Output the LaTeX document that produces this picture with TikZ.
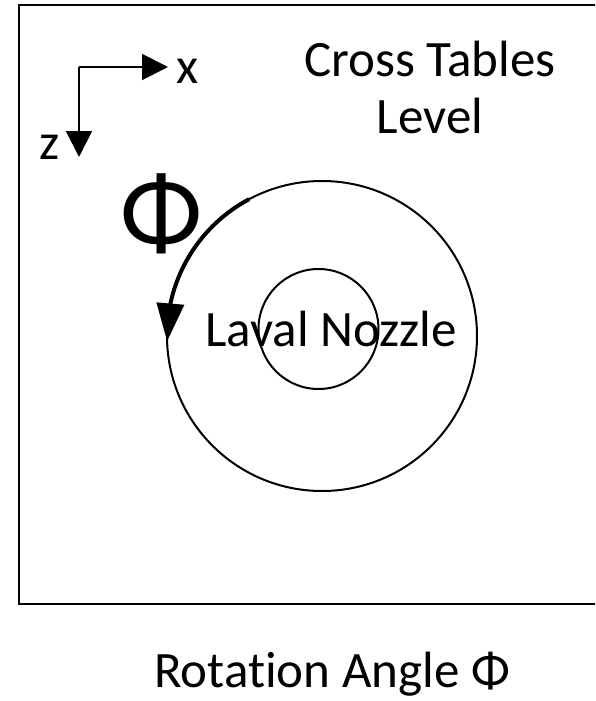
\documentclass[tikz,border=0pt]{standalone}
\usepackage{fontspec}
\setmainfont{Carlito}[Ligatures=NoCommon]
\usetikzlibrary{arrows.meta,bending}
\begin{document}
\begin{tikzpicture}[x=1pt,y=1pt]
\tikzset{
  frame/.style={line width=2.5pt},
  axis/.style={line width=2pt,-{Triangle[length=26pt,width=26pt]}},
  ring/.style={circle,draw,line width=2pt,inner sep=0pt,outer sep=0pt},
  lbl/.style={font=\fontsize{51}{58}\selectfont,inner sep=0pt},
  biglbl/.style={font=\fontsize{108}{114}\selectfont,inner sep=0pt},
  arcarrow/.style={line width=4pt,-{Triangle[length=38pt,width=27pt,flex]}},
}
\useasboundingbox (0,0) rectangle (595,-701);
\clip (0,0) rectangle (595,-701);
\draw[frame] (19,-5) rectangle (640,-604);
% axes
\coordinate (O) at (79,-67);
\coordinate (X) at (168,-67);
\coordinate (Z) at (79,-157);
\draw[axis] (O) -- (X);
\draw[axis] (O) -- (Z);
\node[lbl,anchor=base] (xl) at (188,-83) {x};
\node[lbl,anchor=base] (zl) at (50,-159) {z};
% level text
\node[lbl,anchor=base] (ct) at (430,-76) {Cross Tables};
\node[lbl,anchor=base] (lv) at (430,-133) {Level};
% circles
\node[ring,minimum size=310pt] (big) at (322,-336) {};
\node[ring,minimum size=120pt] (small) at (318.5,-329) {};
\node[lbl,anchor=base] (ln) at (331,-346) {Laval Nozzle};
% rotation arrow
\draw[arcarrow] (big.118) arc[start angle=118,end angle=182,radius=155pt];
\node[biglbl] (phi) at (161,-214) {Φ};
% caption
\node[lbl,anchor=base] (cap) at (332,-687) {Rotation Angle Φ};
\end{tikzpicture}
\end{document}
